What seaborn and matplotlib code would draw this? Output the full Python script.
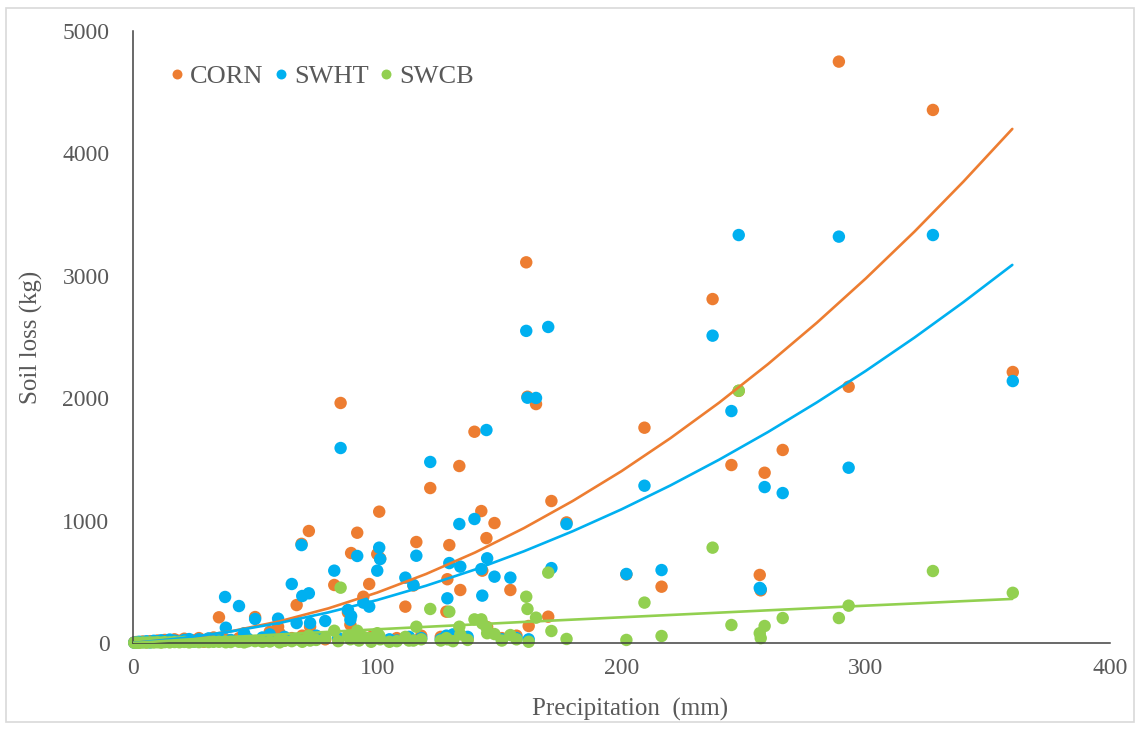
import pandas as pd
import matplotlib
matplotlib.use('Agg')
import matplotlib.pyplot as plt
from matplotlib.patches import Rectangle
import seaborn as sns

# precipitation events (mm) and soil loss (kg) per cropping system
precip = [0.5, 1.5, 2.5, 4, 5.5, 7, 8.5, 10, 11.5, 13,
          15, 17, 19, 21, 23, 25, 27, 29, 31, 33,
          35.2, 37.7, 38, 40, 43.4, 45.5, 47, 50, 53, 56,
          59.4, 60, 62, 65, 67, 69, 69.3, 72, 72.5, 75,
          78.7, 82.4, 84, 85, 88, 89, 89.3, 91.8, 92.5, 94.3,
          96.7, 97.5, 100, 100.8, 101.2, 105, 108, 111.5, 113, 114.8,
          116, 118, 121.7, 126, 128.3, 128.7, 129.5, 131, 133.6, 134,
          137, 139.8, 142.6, 143, 144.7, 145, 148, 151, 154.5, 157,
          161, 161.5, 162, 165, 170, 171.3, 177.5, 202, 209.4, 216.4,
          237.3, 245, 248, 256.6, 257, 258.6, 266, 289, 293, 327.5,
          360.2]
corn = [5, 8, 4, 12, 6, 15, 10, 20, 8, 25,
        12, 30, 18, 35, 14, 22, 40, 10, 28, 45,
        210, 30, 20, 15, 40, 60, 25, 212, 30, 92,
        133, 80, 20, 40, 310, 810, 60, 915, 133, 30,
        30, 474, 20, 1961, 250, 150, 735, 901, 40, 378,
        482, 50, 727, 1073, 690, 20, 40, 297, 30, 470,
        825, 60, 1266, 50, 256, 521, 800, 40, 1446, 433,
        30, 1726, 1078, 591, 857, 130, 980, 40, 433, 60,
        3110, 2012, 139, 1952, 215, 1160, 985, 560, 1759, 460,
        2810, 1454, 2060, 556, 430, 1391, 1577, 4750, 2094, 4355,
        2214]
swht = [3, 6, 10, 8, 14, 5, 18, 12, 22, 15,
        28, 20, 10, 25, 32, 12, 30, 20, 38, 15,
        40, 376, 125, 25, 302, 80, 35, 196, 45, 70,
        199, 30, 50, 482, 163, 800, 384, 406, 163, 60,
        180, 591, 40, 1593, 270, 190, 220, 711, 60, 330,
        297, 30, 591, 779, 686, 30, 20, 534, 50, 474,
        713, 40, 1479, 30, 60, 365, 653, 70, 972, 624,
        50, 1013, 604, 387, 1740, 692, 542, 30, 534, 40,
        2550, 2004, 30, 2002, 2582, 612, 972, 564, 1285, 596,
        2511, 1895, 3333, 450, 440, 1274, 1225, 3320, 1432, 3333,
        2140]
swcb = [2, 3, 2, 4, 3, 5, 4, 6, 3, 7,
        5, 8, 6, 9, 5, 10, 7, 12, 8, 10,
        10, 12, 6, 8, 10, 5, 14, 15, 10, 12,
        20, 5, 18, 15, 30, 20, 10, 60, 20, 25,
        40, 100, 15, 452, 60, 30, 60, 100, 20, 50,
        40, 10, 80, 60, 30, 10, 15, 50, 20, 20,
        133, 30, 278, 20, 40, 30, 256, 15, 133, 70,
        25, 193, 193, 160, 130, 80, 73, 20, 65, 30,
        378, 278, 10, 207, 575, 98, 33, 25, 330, 57,
        779, 147, 2061, 80, 40, 139, 204, 204, 305, 588,
        410]

# trendlines
fit_x = [0, 20, 40, 60, 80, 100, 120, 140, 160, 180,
         200, 220, 240, 260, 280, 300, 320, 340, 360]
fit_corn = [0, 36, 95, 177, 283, 412, 564, 739, 938, 1160,
            1404, 1673, 1964, 2279, 2617, 2978, 3362, 3770, 4200]
fit_swht = [0, 39, 94, 164, 250, 351, 468, 600, 749, 913,
            1092, 1287, 1498, 1724, 1966, 2223, 2496, 2785, 3089]
fit_swcb = [0, 26, 49, 70, 91, 112, 132, 152, 172, 191,
            210, 229, 248, 267, 286, 305, 323, 342, 360]

crops = ['CORN', 'SWHT', 'SWCB']
palette = {'CORN': '#ED7D31', 'SWHT': '#00B0F0', 'SWCB': '#92D050'}
grey = '#595959'

pts = pd.DataFrame({'precip': precip, 'CORN': corn, 'SWHT': swht, 'SWCB': swcb})
pts = pts.melt(id_vars='precip', value_vars=crops, var_name='crop', value_name='loss')

fits = pd.DataFrame({'precip': fit_x, 'CORN': fit_corn, 'SWHT': fit_swht, 'SWCB': fit_swcb})
fits = fits.melt(id_vars='precip', value_vars=crops, var_name='crop', value_name='loss')

sns.set_style('white')
plt.rcParams['font.family'] = ['Liberation Serif', 'DejaVu Serif']

fig = plt.figure(figsize=(11.4, 7.3), dpi=100)
ax = fig.add_axes([133 / 1140, 87 / 730, 977 / 1140, 612 / 730])

sns.scatterplot(data=pts, x='precip', y='loss', hue='crop', hue_order=crops,
                palette=palette, s=80, linewidth=0, alpha=1, ax=ax, zorder=2,
                clip_on=False)
sns.lineplot(data=fits, x='precip', y='loss', hue='crop', hue_order=crops,
             palette=palette, linewidth=1.9, legend=False, ax=ax, zorder=3)

ax.set_xlim(0, 400)
ax.set_ylim(0, 5000)
ax.set_xticks([0, 100, 200, 300, 400])
ax.set_yticks([0, 1000, 2000, 3000, 4000, 5000])

for side in ['top', 'right']:
    ax.spines[side].set_visible(False)
for side in ['left', 'bottom']:
    ax.spines[side].set_color('#404040')
    ax.spines[side].set_linewidth(1.1)

ax.tick_params(axis='both', direction='out', length=5, width=1.1, color='#404040',
               labelsize=17, labelcolor=grey)
ax.tick_params(axis='y', pad=12)
ax.tick_params(axis='x', pad=6)

ax.set_xlabel('Precipitation  (mm)', fontsize=18, color=grey)
ax.set_ylabel('Soil loss (kg)', fontsize=18, color=grey)
ax.xaxis.set_label_coords(0.509, -0.09)
ax.yaxis.set_label_coords(-0.092, 0.5)

leg = ax.legend(loc='upper left', bbox_to_anchor=(0.022, 0.962), ncol=3, frameon=False,
                fontsize=19, markerscale=0.8, handletextpad=0.05, columnspacing=0.2,
                handlelength=0.9, borderaxespad=0)
for t in leg.get_texts():
    t.set_color(grey)

fig.patches.append(Rectangle((6 / 1140, 8 / 730), 1128 / 1140, 714 / 730,
                             transform=fig.transFigure, fill=False,
                             edgecolor='#d9d9d9', linewidth=1.2))

fig.savefig('out.png', dpi=100)
